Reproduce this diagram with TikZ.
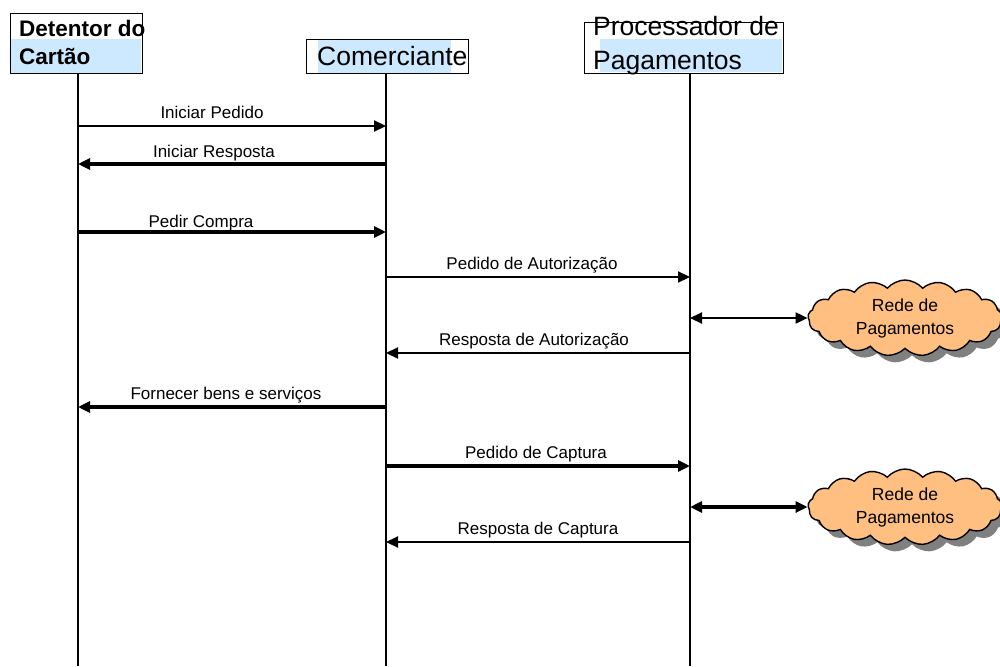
\documentclass[tikz,border=0pt]{standalone}
\usepackage{fontspec}
\setmainfont{Liberation Sans}
\usetikzlibrary{arrows.meta,shapes.symbols,shadows}
\definecolor{headfill}{RGB}{204,233,255}
\definecolor{cloudfill}{RGB}{255,191,128}
\begin{document}
\begin{tikzpicture}[x=1pt,y=-1pt,
  headbox/.style={draw, line width=1.4pt, inner sep=0, anchor=north west},
  headtext/.style={inner sep=0, anchor=base west, font=\fontsize{26.5}{30}\selectfont},
  headbold/.style={inner sep=0, anchor=base west, font=\fontsize{22.5}{26}\selectfont\bfseries},
  life/.style={line width=1.7pt},
  msgthin/.style={line width=2.2pt, -{Triangle[length=12pt,width=11pt]}},
  msgthick/.style={line width=3.4pt, -{Triangle[length=12pt,width=11pt]}},
  bithin/.style={line width=2.2pt, {Triangle[length=12pt,width=11pt]}-{Triangle[length=12pt,width=11pt]}},
  bithick/.style={line width=3.4pt, {Triangle[length=12pt,width=11pt]}-{Triangle[length=12pt,width=11pt]}},
  msglabel/.style={inner sep=0, anchor=base, font=\fontsize{17}{20}\selectfont},
  network/.style={cloud, cloud puffs=17, cloud puff arc=100, aspect=2.6,
    draw, line width=1.4pt, fill=cloudfill, minimum width=194, minimum height=76,
    align=center, inner sep=0, font=\fontsize{17.5}{23}\selectfont,
    drop shadow={shadow xshift=7pt, shadow yshift=-7pt, fill=black!50, opacity=1}}
]
\useasboundingbox (0,0) rectangle (1000,666);

% participant headers
\fill[headfill] (11,39) rectangle (141,73);
\node[headbox, minimum width=132, minimum height=60] (card) at (10,13) {};
\node[headbold] (card-l1) at (19,37) {Detentor do};
\node[headbold] (card-l2) at (19,65) {Cartão};

\fill[headfill] (318,40) rectangle (451,73);
\node[headbox, minimum width=162, minimum height=34] (shop) at (306,39) {};
\node[headtext] (shop-l1) at (317,66) {Comerciante};

\fill[headfill] (600,39) rectangle (782,72);
\node[headbox, minimum width=199, minimum height=51] (proc) at (584,22) {};
\node[headtext] (proc-l1) at (593,36) {Processador de};
\node[headtext] (proc-l2) at (593,70) {Pagamentos};

% lifelines
\coordinate (card-top) at (78,73);  \coordinate (card-bot) at (78,666);
\coordinate (shop-top) at (386,73); \coordinate (shop-bot) at (386,666);
\coordinate (proc-top) at (690,73); \coordinate (proc-bot) at (690,666);
\foreach \p in {card,shop,proc}
  \draw[life] (\p-top) -- (\p-bot);

% messages
\foreach \a/\b/\y/\st in {card/shop/126/msgthin, shop/card/164/msgthick,
    card/shop/232/msgthick, shop/proc/277/msgthin, proc/shop/353/msgthin,
    shop/card/407/msgthick, shop/proc/466/msgthick, proc/shop/542/msgthin}
  \draw[\st] (\a-top |- 0,\y) -- (\b-top |- 0,\y);

\node[msglabel] (m1) at (212,118) {Iniciar Pedido};
\node[msglabel] (m2) at (214,157) {Iniciar Resposta};
\node[msglabel] (m3) at (201,227) {Pedir Compra};
\node[msglabel] (m4) at (532,269) {Pedido de Autorização};
\node[msglabel] (m5) at (534,345) {Resposta de Autorização};
\node[msglabel] (m6) at (226,399) {Fornecer bens e serviços};
\node[msglabel] (m7) at (536,458) {Pedido de Captura};
\node[msglabel] (m8) at (538,534) {Resposta de Captura};

% payment networks
\node[network] (net1) at (905,318) {Rede de\\Pagamentos};
\node[network] (net2) at (905,507) {Rede de\\Pagamentos};
\draw[bithin] (proc-top |- net1.west) -- (net1.west);
\draw[bithick] (proc-top |- net2.west) -- (net2.west);
\end{tikzpicture}
\end{document}
